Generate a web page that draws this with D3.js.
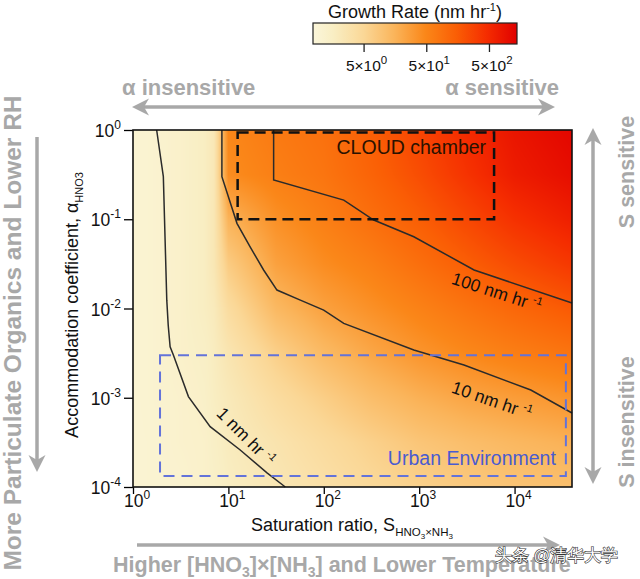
<!DOCTYPE html>
<html><head><meta charset="utf-8">
<script src="https://cdn.jsdelivr.net/npm/d3@7"></script>
<style>
body{margin:0;background:#fff}
svg{display:block}
text{font-family:"Liberation Sans",Arial,Helvetica,sans-serif}
</style>
</head><body>
<svg id="c" width="640" height="579"></svg>
<script>
// ---------------- DATA ----------------
// growth-rate field (nm hr^-1) sampled on a grid of saturation ratio (columns) and accommodation coefficient (rows)
const satGrid   = [1, 1.78, 3.16, 5.62, 7.08, 10, 31.6, 100, 316, 1000, 3160, 10000, 40000];
const accomGrid = [1, 0.316, 0.1, 0.0316, 0.01, 0.00316, 0.001, 0.000316, 0.0001];
const growthGrid = [
  [1.0, 1.1, 1.3, 1.7, 2.3, 48, 70, 90, 150, 270, 490, 830, 1200],
  [1.0, 1.1, 1.3, 1.7, 2.3, 42, 60, 80, 130, 220, 400, 700, 1000],
  [1.0, 1.1, 1.3, 1.7, 2.4, 16, 38, 60, 95, 150, 250, 420, 650],
  [1.0, 1.1, 1.3, 1.7, 2.4, 7.4, 25, 42, 60, 95, 150, 230, 360],
  [1.0, 1.1, 1.3, 1.7, 2.0, 4.0, 13.5, 25, 38, 56, 82, 118, 170],
  [1.0, 1.1, 1.3, 1.5, 1.8, 2.6, 6.5, 13, 22, 34, 47, 62, 82],
  [1.0, 1.1, 1.2, 1.4, 1.7, 2.1, 4.0, 6.8, 11.5, 17, 23, 28, 35],
  [1.0, 1.05, 1.2, 1.3, 1.5, 1.9, 2.8, 4.2, 6.2, 9, 11.5, 14, 17],
  [1.0, 1.05, 1.1, 1.3, 1.4, 1.7, 2.4, 3.3, 4.7, 6.2, 8, 9.5, 11]
];
// contour lines: [saturation ratio, accommodation coefficient]
const contour1 = [[1.77,1],[2.08,0.30],[2.26,0.0124],[2.34,0.0065],[2.45,0.00373],[2.65,0.00301],[3.81,0.00103],[6.44,4.74e-4],[13.3,2.6e-4],[25.4,1.44e-4],[39.5,1e-4]];
const contour10 = [[8.55,1],[8.55,0.30],[12.3,0.090],[16.9,0.049],[23.4,0.027],[32.3,0.0161],[56.8,0.0124],[99.8,0.0096],[162,0.00682],[879,0.00343],[2950,0.00233],[14800,0.00122],[40000,6.75e-4]];
const contour100 = [[29.8,1],[29.8,0.275],[162,0.164],[334,0.098],[879,0.0637],[3760,0.027],[40000,0.0115]];
const contourLabels = [
  {S:15.3, a:3.7e-4, rot:45, txt:"1 nm hr"},
  {S:5800, a:9.4e-4, rot:19, txt:"10 nm hr"},
  {S:6530, a:0.0153, rot:18, txt:"100 nm hr"}
];
// regions
const cloudS = [12.5, 6100], cloudAlpha = [0.1, 0.94];
const urbanS = [1.92, 34500], urbanAlpha = [1.33e-4, 3.0e-3];
// axes
const xMajor = [1, 10, 100, 1000, 10000];
const xExp = ["0","1","2","3","4"];
const yMajor = [1, 0.1, 0.01, 0.001, 0.0001];
const yExp = ["0","-1","-2","-3","-4"];
const cbarTicks = [5, 50, 500];
const cbarExp = ["0","1","2"];
const rampStops = [0, 0.1, 0.25, 0.4, 0.55, 0.7, 0.85, 1];
const rampColors = ["#fbf6da","#f9eec3","#fad796","#fab45a","#fa8719","#fa5f05","#f52d00","#e00000"];

// ---------------- SCALES ----------------
const svg = d3.select("#c");
const x = d3.scaleLog().domain([1, 40000]).range([133, 572]);
const y = d3.scaleLog().domain([1e-4, 1]).range([487, 130]);
const ramp = d3.scaleLinear().domain(rampStops).range(rampColors).interpolate(d3.interpolateRgb);
const cnorm = d3.scaleLog().domain([0.78, 1400]).range([0, 1]).clamp(true);
const grey = "#a8a8a8";

// ---------------- HEATMAP ----------------
const x0 = x.range()[0], y0 = y.range()[1];
const cw = Math.round(x.range()[1] - x0), ch = Math.round(y.range()[0] - y0);
const canvas = document.createElement("canvas");
canvas.width = cw; canvas.height = ch;
const ctx = canvas.getContext("2d");
const img = ctx.createImageData(cw, ch);
const lsC = satGrid.map(Math.log10), laR = accomGrid.map(Math.log10);
const lg = growthGrid.map(r => r.map(Math.log10));
function locate(arr, v){
  for (let k = 0; k < arr.length - 1; k++){
    const a = arr[k], b = arr[k+1];
    if ((v - a) * (v - b) <= 0) return [k, (v - a) / (b - a)];
  }
  const asc = arr[1] > arr[0];
  if ((asc && v < arr[0]) || (!asc && v > arr[0])) return [0, 0];
  return [arr.length - 2, 1];
}
for (let j = 0; j < ch; j++){
  const la = Math.log10(y.invert(y0 + j + 0.5));
  const [r, v] = locate(laR, la);
  for (let i = 0; i < cw; i++){
    const ls = Math.log10(x.invert(x0 + i + 0.5));
    const [k, u] = locate(lsC, ls);
    const val = (1-u)*(1-v)*lg[r][k] + u*(1-v)*lg[r][k+1] + (1-u)*v*lg[r+1][k] + u*v*lg[r+1][k+1];
    const c = d3.rgb(ramp(cnorm(Math.pow(10, val))));
    const p = (j*cw + i)*4;
    img.data[p] = c.r; img.data[p+1] = c.g; img.data[p+2] = c.b; img.data[p+3] = 255;
  }
}
ctx.putImageData(img, 0, 0);
svg.append("image").attr("x", x0).attr("y", y0).attr("width", cw).attr("height", ch)
  .attr("preserveAspectRatio","none").attr("href", canvas.toDataURL());

// ---------------- CONTOURS ----------------
const line = d3.line().x(d => x(d[0])).y(d => y(d[1]));
[contour1, contour10, contour100].forEach(c => {
  svg.append("path").attr("d", line(c)).attr("fill","none").attr("stroke","#2b2b2b").attr("stroke-width",1.5);
});
contourLabels.forEach(l => {
  const t = svg.append("text")
    .attr("transform", `translate(${x(l.S)},${y(l.a)}) rotate(${l.rot})`)
    .attr("text-anchor","middle").attr("dy","0.35em").attr("font-size",17.5).attr("fill","#111");
  t.append("tspan").text(l.txt + " ");
  t.append("tspan").attr("dy",-7).attr("font-size",11).text("-1");
});

// ---------------- REGION BOXES ----------------
svg.append("rect").attr("x", x(cloudS[0])).attr("y", y(cloudAlpha[1]))
  .attr("width", x(cloudS[1]) - x(cloudS[0])).attr("height", y(cloudAlpha[0]) - y(cloudAlpha[1]))
  .attr("fill","none").attr("stroke","#111").attr("stroke-width",2.5).attr("stroke-dasharray","11,6");
svg.append("text").attr("x", x(cloudS[1]) - 8).attr("y", y(cloudAlpha[1]) + 22)
  .attr("text-anchor","end").attr("font-size",19.5).attr("fill","#2a1200").text("CLOUD chamber");
svg.append("rect").attr("x", x(urbanS[0])).attr("y", y(urbanAlpha[1]))
  .attr("width", x(urbanS[1]) - x(urbanS[0])).attr("height", y(urbanAlpha[0]) - y(urbanAlpha[1]))
  .attr("fill","none").attr("stroke","#6373d9").attr("stroke-width",2).attr("stroke-dasharray","11,7");
svg.append("text").attr("x", x(urbanS[1]) - 10).attr("y", y(urbanAlpha[0]) - 11)
  .attr("text-anchor","end").attr("font-size",19.5).attr("fill","#4a5bd0").text("Urban Environment");

// ---------------- AXES ----------------
const xMinor = [], yMinor = [];
for (let e = 0; e < 5; e++) for (let m = 2; m <= 9; m++){ const v = m*Math.pow(10,e); if (v < 40000) xMinor.push(v); }
for (let e = -4; e < 0; e++) for (let m = 2; m <= 9; m++) yMinor.push(m*Math.pow(10,e));
const gx = svg.append("g").attr("transform",`translate(0,${y.range()[0]})`);
gx.call(d3.axisBottom(x).tickValues(xMinor).tickSize(4).tickFormat(""));
gx.call(d3.axisBottom(x).tickValues(xMajor).tickSize(7).tickFormat(""));
gx.select(".domain").remove();
const gy = svg.append("g").attr("transform",`translate(${x.range()[0]},0)`);
gy.call(d3.axisLeft(y).tickValues(yMinor).tickSize(5).tickFormat(""));
gy.call(d3.axisLeft(y).tickValues(yMajor).tickSize(9).tickFormat(""));
gy.select(".domain").remove();
svg.selectAll(".tick line").attr("stroke","#000").attr("stroke-width",1.3);
svg.append("rect").attr("x",x.range()[0]).attr("y",y.range()[1])
  .attr("width",x.range()[1]-x.range()[0]).attr("height",y.range()[0]-y.range()[1])
  .attr("fill","none").attr("stroke","#111").attr("stroke-width",1.6);

xMajor.forEach((v,i) => {
  const t = svg.append("text").attr("x", x(v) + 4).attr("y", 507).attr("text-anchor","middle").attr("font-size",17.5).attr("fill","#111");
  t.append("tspan").text("10");
  t.append("tspan").attr("dy",-8).attr("font-size",12).text(xExp[i]);
});
yMajor.forEach((v,i) => {
  const t = svg.append("text").attr("x", 121).attr("y", y(v) + 7).attr("text-anchor","end").attr("font-size",17.5).attr("fill","#111");
  t.append("tspan").text("10");
  t.append("tspan").attr("dy",-8).attr("font-size",12).text(yExp[i]);
});
// axis titles
const xl = svg.append("text").attr("x", 352).attr("y", 531).attr("text-anchor","middle").attr("font-size",18).attr("fill","#111");
xl.append("tspan").text("Saturation ratio, S");
xl.append("tspan").attr("dy",5).attr("font-size",11.5).text("HNO");
xl.append("tspan").attr("dy",3).attr("font-size",8).text("3");
xl.append("tspan").attr("dy",-3).attr("font-size",11.5).text("×NH");
xl.append("tspan").attr("dy",3).attr("font-size",8).text("3");
const yl = svg.append("text").attr("transform","translate(78,305) rotate(-90)").attr("text-anchor","middle").attr("font-size",18).attr("fill","#111");
yl.append("tspan").text("Accommodation coefficient, α");
yl.append("tspan").attr("dy",5).attr("font-size",11).text("HNO3");

// ---------------- COLORBAR ----------------
const cb = d3.scaleLog().domain([0.78, 1400]).range([313, 517]);
const grad = svg.append("defs").append("linearGradient").attr("id","cbg").attr("x1","0%").attr("x2","100%");
d3.range(0, 1.0001, 0.05).forEach(t => grad.append("stop").attr("offset", (t*100)+"%").attr("stop-color", ramp(t)));
svg.append("rect").attr("x",313).attr("y",23).attr("width",204).attr("height",21)
  .attr("fill","url(#cbg)").attr("stroke","#222").attr("stroke-width",1.2);
const gc = svg.append("g").attr("transform","translate(0,44)");
gc.call(d3.axisBottom(cb).tickValues(cbarTicks).tickSize(8).tickFormat(""));
gc.select(".domain").remove();
gc.selectAll(".tick line").attr("stroke","#222").attr("stroke-width",1.3);
cbarTicks.forEach((v,i) => {
  const t = svg.append("text").attr("x", cb(v) + 3).attr("y", 71).attr("text-anchor","middle").attr("font-size",15.5).attr("fill","#111");
  t.append("tspan").text("5×10");
  t.append("tspan").attr("dy",-7).attr("font-size",11.5).text(cbarExp[i]);
});
const ct = svg.append("text").attr("x", 415).attr("y", 18).attr("text-anchor","middle").attr("font-size",18).attr("fill","#111");
ct.append("tspan").text("Growth Rate (nm hr");
ct.append("tspan").attr("dy",-7).attr("font-size",11).text("-1");
ct.append("tspan").attr("dy",7).text(")");

// ---------------- ANNOTATION ARROWS ----------------
function head(tx, ty, dx, dy){
  const L = 17, W = 8.5, N = 5;
  const px = -dy, py = dx;
  const bx = tx - dx*L, by = ty - dy*L;
  const nx = tx - dx*(L-N), ny = ty - dy*(L-N);
  return `M${tx},${ty}L${bx+px*W},${by+py*W}L${nx},${ny}L${bx-px*W},${by-py*W}Z`;
}
function arrow(x1,y1,x2,y2,startHead,endHead){
  const len = Math.hypot(x2-x1,y2-y1), dx = (x2-x1)/len, dy = (y2-y1)/len;
  const s = startHead ? 10 : 0, e = endHead ? 10 : 0;
  svg.append("line").attr("x1",x1+dx*s).attr("y1",y1+dy*s).attr("x2",x2-dx*e).attr("y2",y2-dy*e)
    .attr("stroke",grey).attr("stroke-width",3.5);
  if (endHead) svg.append("path").attr("d",head(x2,y2,dx,dy)).attr("fill",grey);
  if (startHead) svg.append("path").attr("d",head(x1,y1,-dx,-dy)).attr("fill",grey);
}
arrow(132,107,555,107,true,true);
arrow(593,128,593,484,true,true);
arrow(37,137,37,472,false,true);
arrow(137,545,560,545,false,true);

const gtxt = (xx,yy,rot,anchor,size,str) => svg.append("text")
  .attr("transform",`translate(${xx},${yy}) rotate(${rot})`).attr("text-anchor",anchor)
  .attr("font-size",size).attr("font-weight","bold").attr("fill",grey).text(str);
gtxt(122,95,0,"start",22,"α insensitive");
gtxt(559,95,0,"end",22,"α sensitive");
gtxt(634,172,-90,"middle",21.5,"S sensitive");
gtxt(634,422,-90,"middle",21.5,"S insensitive");
gtxt(21,333,-90,"middle",24.5,"More Particulate Organics and Lower RH");
const bt = svg.append("text").attr("x",113).attr("y",572).attr("font-size",21.5).attr("font-weight","bold").attr("fill",grey);
bt.append("tspan").text("Higher [HNO");
bt.append("tspan").attr("dy",5).attr("font-size",14).text("3");
bt.append("tspan").attr("dy",-5).text("]×[NH");
bt.append("tspan").attr("dy",5).attr("font-size",14).text("3");
bt.append("tspan").attr("dy",-5).text("] and Lower Temperature");

// watermark
svg.append("text").attr("x",495).attr("y",561).attr("font-size",16.5)
  .attr("font-family","'Noto Sans CJK SC',sans-serif").attr("fill","#fff")
  .attr("stroke","#333").attr("stroke-width",1.2).attr("paint-order","stroke").text("头条 @清华大学");
</script>
</body></html>
